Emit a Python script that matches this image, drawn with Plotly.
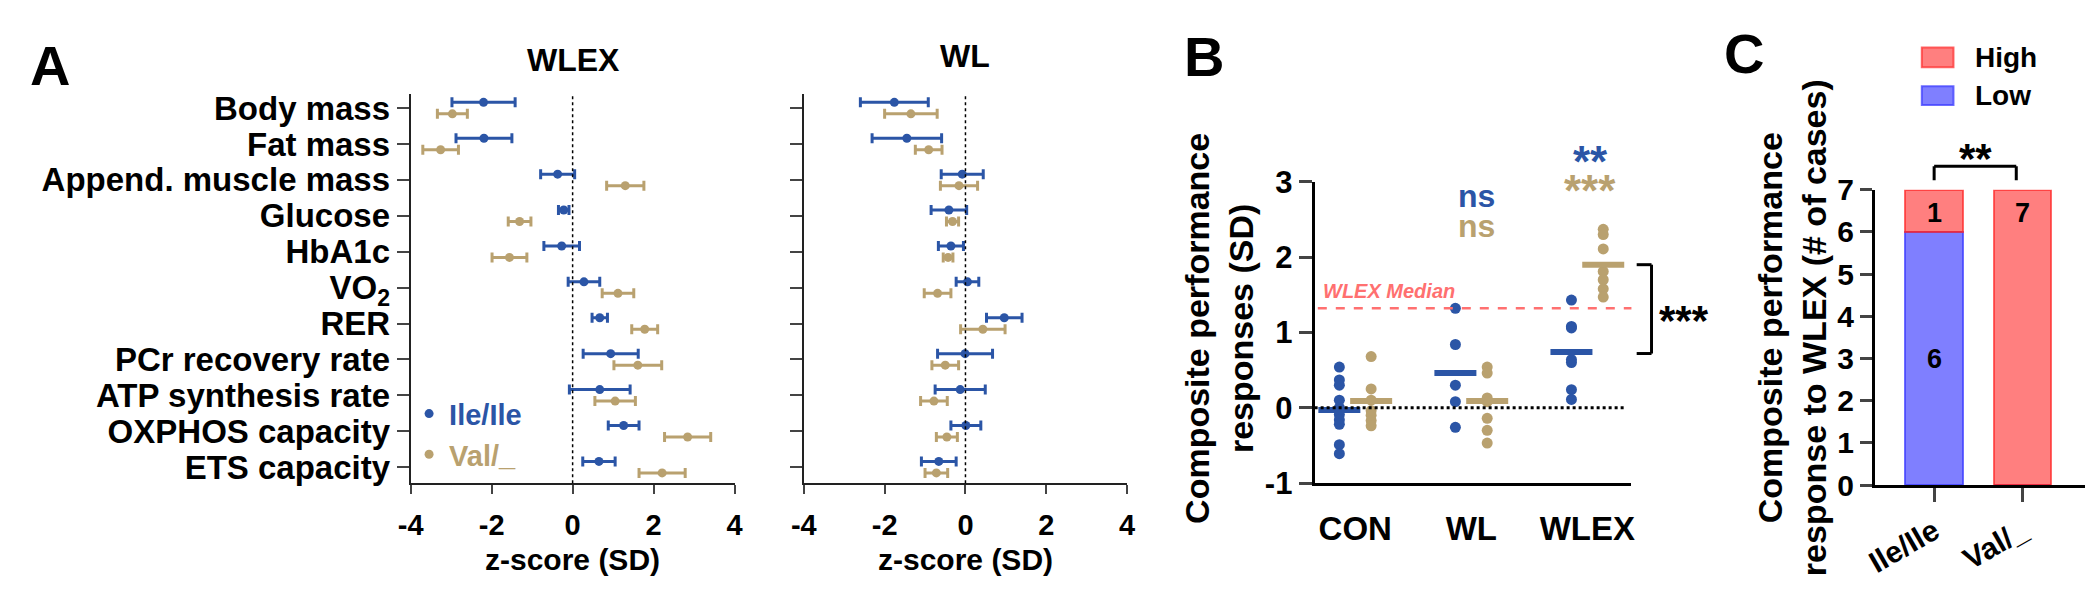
import plotly.graph_objects as go

# ---- data ----
traits = ["Body mass", "Fat mass", "Append. muscle mass", "Glucose", "HbA1c", "VO<sub>2</sub>",
          "RER", "PCr recovery rate", "ATP synthesis rate", "OXPHOS capacity", "ETS capacity"]

wlex_ile = [-2.20, -2.19, -0.37, -0.22, -0.27, 0.28, 0.67, 0.94, 0.67, 1.26, 0.65]
wlex_ile_err = [0.78, 0.69, 0.42, 0.13, 0.44, 0.39, 0.19, 0.68, 0.75, 0.38, 0.40]
wlex_val = [-2.97, -3.26, 1.30, -1.31, -1.56, 1.12, 1.78, 1.61, 1.05, 2.84, 2.21]
wlex_val_err = [0.37, 0.44, 0.46, 0.28, 0.43, 0.39, 0.32, 0.59, 0.50, 0.57, 0.57]

wl_ile = [-1.76, -1.45, -0.08, -0.41, -0.36, 0.05, 0.96, -0.01, -0.13, 0.01, -0.66]
wl_ile_err = [0.84, 0.86, 0.52, 0.44, 0.31, 0.28, 0.44, 0.68, 0.62, 0.37, 0.43]
wl_val = [-1.35, -0.91, -0.16, -0.32, -0.43, -0.69, 0.43, -0.50, -0.78, -0.46, -0.72]
wl_val_err = [0.65, 0.33, 0.46, 0.15, 0.12, 0.33, 0.55, 0.33, 0.33, 0.26, 0.28]

groups = ["CON", "WL", "WLEX"]
ile_points = [
    [0.54, 0.37, 0.30, 0.10, 0.00, -0.03, -0.09, -0.16, -0.22, -0.49, -0.61],
    [1.32, 0.84, 0.30, 0.08, -0.26],
    [1.43, 1.08, 1.06, 0.64, 0.60, 0.24, 0.11],
]
val_points = [
    [0.68, 0.25, 0.10, -0.04, -0.10, -0.17, -0.24],
    [0.54, 0.46, 0.13, 0.08, -0.14, -0.30, -0.47],
    [2.37, 2.30, 2.11, 1.81, 1.70, 1.58, 1.47],
]
ile_center = [-0.03, 0.46, 0.74]
val_center = [0.09, 0.09, 1.90]
wlex_median = 1.32

genotypes = ["Ile/Ile", "Val/_"]
low_counts = [6, 0]
high_counts = [1, 7]

zticks = [-4, -2, 0, 2, 4]
bticks = [-1, 0, 1, 2, 3]

BLUE = "#2B55A6"
TAN = "#B9A16F"
HIGH_FILL, HIGH_LINE = "rgba(255,0,0,0.5)", "rgba(255,40,40,0.7)"
LOW_FILL, LOW_LINE = "rgba(0,0,255,0.5)", "rgba(60,60,255,0.75)"
FONT = "Liberation Sans, Arial, sans-serif"
W, H = 2100, 594


def fx(p):
    return p / W


def fy(p):
    return 1 - p / H


def hy(v):
    # plain hyphen for negative tick labels, like the original
    return str(v)


fig = go.Figure()

# ---- panel A ----
rows = list(range(len(traits)))
off = 0.16
for xa, ya, ile, ie, val, ve, show in [("x", "y", wlex_ile, wlex_ile_err, wlex_val, wlex_val_err, True),
                                       ("x2", "y2", wl_ile, wl_ile_err, wl_val, wl_val_err, False)]:
    fig.add_trace(go.Scatter(
        x=ile, y=[r - off for r in rows], xaxis=xa, yaxis=ya, mode="markers",
        marker=dict(color=BLUE, size=9),
        error_x=dict(type="data", array=ie, color=BLUE, thickness=3, width=5),
        name=f"<span style='color:{BLUE}'>Ile/Ile</span>", legend="legend2", showlegend=show))
    fig.add_trace(go.Scatter(
        x=val, y=[r + off for r in rows], xaxis=xa, yaxis=ya, mode="markers",
        marker=dict(color=TAN, size=9),
        error_x=dict(type="data", array=ve, color=TAN, thickness=3, width=5),
        name=f"<span style='color:{TAN}'>Val/_</span>", legend="legend2", showlegend=show))

# ---- panel B ----
bo = 0.137
for i, g in enumerate(groups):
    fig.add_trace(go.Scatter(x=[i - bo] * len(ile_points[i]), y=ile_points[i], xaxis="x3", yaxis="y3",
                             mode="markers", marker=dict(color=BLUE, size=11), showlegend=False))
    fig.add_trace(go.Scatter(x=[i + bo] * len(val_points[i]), y=val_points[i], xaxis="x3", yaxis="y3",
                             mode="markers", marker=dict(color=TAN, size=11), showlegend=False))
fig.add_trace(go.Scatter(x=[i - bo for i in range(3)], y=ile_center, xaxis="x3", yaxis="y3", mode="markers",
                         marker=dict(symbol="line-ew", size=30, line=dict(color=BLUE, width=6)), showlegend=False))
fig.add_trace(go.Scatter(x=[i + bo for i in range(3)], y=val_center, xaxis="x3", yaxis="y3", mode="markers",
                         marker=dict(symbol="line-ew", size=30, line=dict(color=TAN, width=6)), showlegend=False))

# ---- panel C ----
fig.add_trace(go.Bar(x=genotypes, y=low_counts, xaxis="x4", yaxis="y4", name="Low", width=0.65,
                     marker=dict(color=LOW_FILL, line=dict(color=LOW_LINE, width=2)), showlegend=False))
fig.add_trace(go.Bar(x=genotypes, y=high_counts, xaxis="x4", yaxis="y4", name="High", width=0.65,
                     marker=dict(color=HIGH_FILL, line=dict(color=HIGH_LINE, width=2)), showlegend=False))

axA = dict(range=[-4, 4], tickvals=zticks, ticktext=[hy(t) for t in zticks], ticks="outside", ticklen=9,
           tickwidth=2, showline=True, linewidth=2, linecolor="#222", showgrid=False, zeroline=False,
           tickfont=dict(size=29), ticklabelstandoff=6)
yA = dict(range=[10.45, -0.4], tickvals=rows, ticks="outside", ticklen=12, tickwidth=2,
          showline=True, linewidth=2, linecolor="#222", showgrid=False, zeroline=False,
          domain=[fy(487), fy(73)])

fig.update_layout(
    width=W, height=H, margin=dict(l=0, r=0, t=0, b=0),
    paper_bgcolor="white", plot_bgcolor="white",
    font=dict(family=FONT, color="black", weight="bold"),
    barmode="stack",
    xaxis=dict(axA, domain=[fx(393.6), fx(720.8)], anchor="y"),
    yaxis=dict(yA, ticktext=traits, tickfont=dict(size=33), anchor="x"),
    xaxis2=dict(axA, domain=[fx(790.7), fx(1117.3)], anchor="y2"),
    yaxis2=dict(yA, showticklabels=False, anchor="x2"),
    xaxis3=dict(domain=[fx(1306.7), fx(1626.7)], range=[-0.35, 2.38], tickvals=[0, 1, 2], ticktext=groups,
                ticks="", showline=True, linewidth=3, linecolor="black", showgrid=False, zeroline=False,
                tickfont=dict(size=33), ticklabelstandoff=14, anchor="y3"),
    yaxis3=dict(domain=[fy(486.7), fy(166.7)], range=[-1, 3], tickvals=bticks, ticktext=[hy(t) for t in bticks],
                ticks="outside", ticklen=13, tickwidth=3, showline=True, linewidth=3, linecolor="black",
                showgrid=False, zeroline=False, tickfont=dict(size=31), anchor="x3"),
    xaxis4=dict(domain=[fx(1872.7), fx(2085)], range=[-0.67, 1.71], ticks="outside", ticklen=14, tickwidth=3,
                showline=True, linewidth=3, linecolor="black", tickangle=-30, tickfont=dict(size=30),
                anchor="y4"),
    yaxis4=dict(domain=[fy(489), fy(175)], range=[0, 7], dtick=1, ticks="outside", ticklen=12, tickwidth=3,
                showline=True, linewidth=3, linecolor="black", showgrid=False, zeroline=False,
                tickfont=dict(size=30), anchor="x4"),
    legend2=dict(x=fx(392), y=fy(386), xanchor="left", yanchor="top",
                 font=dict(size=29), bgcolor="rgba(0,0,0,0)"),
)

shapes = []
# zero reference lines in panel A
for xa, ya in [("x", "y domain"), ("x2", "y2 domain")]:
    shapes.append(dict(type="line", xref=xa, yref=ya, x0=0, x1=0, y0=0, y1=1,
                       line=dict(color="black", width=1.5, dash="dot")))
# panel B reference lines
shapes.append(dict(type="line", xref="x3 domain", yref="y3", x0=0, x1=0.98, y0=0, y1=0,
                   line=dict(color="black", width=3, dash="dot")))
shapes.append(dict(type="line", xref="x3 domain", yref="y3", x0=0.01, x1=1.0, y0=wlex_median, y1=wlex_median,
                   line=dict(color="#FF7070", width=2.5, dash="dash")))
# bracket WLEX Ile vs Val
bx0, bx1 = (1632 - 1306.7) / 320, (1647 - 1306.7) / 320
blo = ile_center[2] - 0.02
shapes += [
    dict(type="line", xref="x3 domain", yref="y3", x0=bx0, x1=bx1, y0=val_center[2], y1=val_center[2],
         line=dict(color="black", width=3)),
    dict(type="line", xref="x3 domain", yref="y3", x0=bx1, x1=bx1, y0=val_center[2], y1=blo,
         line=dict(color="black", width=3)),
    dict(type="line", xref="x3 domain", yref="y3", x0=bx0, x1=bx1, y0=blo, y1=blo,
         line=dict(color="black", width=3)),
]
# bracket panel C
cy0, cy1 = fy(165), fy(150)
shapes += [
    dict(type="line", xref="x4", yref="paper", x0=0, x1=0, y0=cy0, y1=cy1, line=dict(color="black", width=3)),
    dict(type="line", xref="x4", yref="paper", x0=0, x1=0.93, y0=cy1, y1=cy1, line=dict(color="black", width=3)),
    dict(type="line", xref="x4", yref="paper", x0=0.93, x1=0.93, y0=cy0, y1=cy1, line=dict(color="black", width=3)),
]
# legend swatches panel C
shapes += [
    dict(type="rect", xref="paper", yref="paper", x0=fx(1920), x1=fx(1952), y0=fy(45), y1=fy(24),
         fillcolor=HIGH_FILL, line=dict(color=HIGH_LINE, width=2)),
    dict(type="rect", xref="paper", yref="paper", x0=fx(1920), x1=fx(1952), y0=fy(85), y1=fy(65),
         fillcolor=LOW_FILL, line=dict(color=LOW_LINE, width=2)),
]
fig.update_layout(shapes=shapes)

ann = []


def pa(text, x, y, size, color="black", **kw):
    ann.append(dict(text=text, x=fx(x), y=fy(y), xref="paper", yref="paper", showarrow=False,
                    font=dict(size=size, color=color), xanchor=kw.pop("xanchor", "center"),
                    yanchor=kw.pop("yanchor", "middle"), **kw))


pa("A", 29, 43, 56)
pa("B", 1195, 34, 56)
pa("C", 1740, 30, 56)
pa("WLEX", 558, 37, 32)
pa("WL", 954, 33, 32)
pa("z-score (SD)", 557, 568, 30)
pa("z-score (SD)", 954, 568, 30)
pa("Composite performance<br>responses (SD)", 1210, 322, 34, textangle=-90)
pa("Composite performance<br>response to WLEX (# of cases)", 1789, 322, 34, textangle=-90)
pa("ns", 1470, 182, 32, BLUE)
pa("ns", 1470, 214, 32, TAN)
pa("**", 1585, 145, 44, BLUE)
pa("***", 1585, 176, 44, TAN)
pa("***", 1680, 314, 42)
pa("**", 1974, 142, 42)
pa("High", 1972, 35, 28, xanchor="left")
pa("Low", 1972, 75, 28, xanchor="left")
pa("<i>WLEX Median</i>", 1313, 283, 20, "#FF7070", xanchor="left")

for i, g in enumerate(genotypes):
    if high_counts[i]:
        ann.append(dict(text=str(high_counts[i]), x=i, y=low_counts[i] + high_counts[i] - 0.55, xref="x4", yref="y4",
                        showarrow=False, font=dict(size=27)))
    if low_counts[i]:
        ann.append(dict(text=str(low_counts[i]), x=i, y=low_counts[i] / 2, xref="x4", yref="y4",
                        showarrow=False, font=dict(size=27)))
fig.update_layout(annotations=ann)

fig.write_html("out.html")
